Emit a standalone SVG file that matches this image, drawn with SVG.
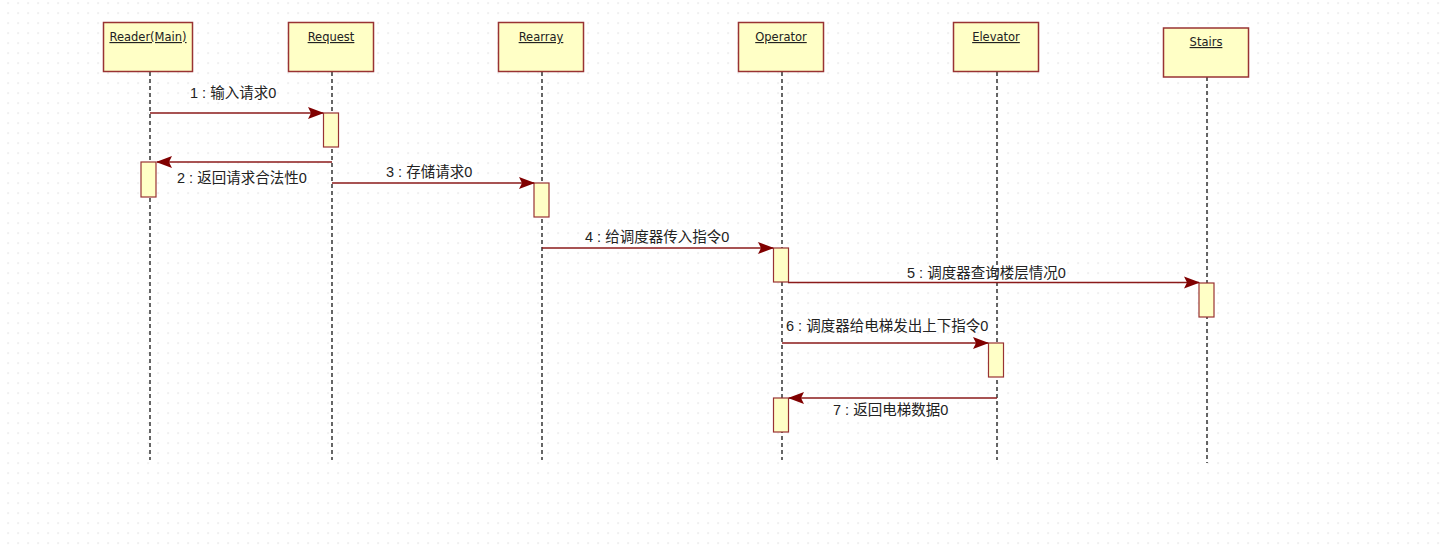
<svg xmlns="http://www.w3.org/2000/svg" width="1445" height="553" viewBox="0 0 1445 553">
<defs>
<pattern id="grid" x="7.5" y="2.5" width="10" height="10" patternUnits="userSpaceOnUse">
<rect x="0" y="0" width="1.2" height="1.2" fill="#d4d4d4"/>
</pattern>
<marker id="arr" markerWidth="16" markerHeight="14" refX="15" refY="7" orient="auto" markerUnits="userSpaceOnUse">
<path d="M0,1 L16,7 L0,13 L3,7 Z" fill="#800000"/>
</marker>
<style>
.obj{fill:#ffffc6;stroke:#993333;stroke-width:1.5}
.act{fill:#ffffc6;stroke:#993333;stroke-width:1.2}
.life{stroke:#000;stroke-width:1.2;stroke-dasharray:4 3;fill:none}
.msg{stroke:#8b1a1a;stroke-width:1.4;fill:none;marker-end:url(#arr)}
.name{font-family:"DejaVu Sans","Liberation Sans",sans-serif;font-size:11.5px;fill:#222;text-decoration:underline;text-anchor:middle}
.lbl{font-family:"Liberation Sans","Noto Sans CJK SC",sans-serif;font-size:14.5px;fill:#222}
</style>
</defs>
<rect width="1445" height="553" fill="#fff"/>
<rect x="0" y="0" width="1445" height="550" fill="url(#grid)"/>

<g id="lifelines">
<line class="life" x1="150" y1="72" x2="150" y2="460"/>
<line class="life" x1="332" y1="72" x2="332" y2="460"/>
<line class="life" x1="542" y1="72" x2="542" y2="460"/>
<line class="life" x1="782" y1="72" x2="782" y2="460"/>
<line class="life" x1="997" y1="72" x2="997" y2="460"/>
<line class="life" x1="1207" y1="77" x2="1207" y2="463"/>
</g>

<g id="reader"><rect class="obj" x="103.5" y="22.5" width="89" height="49"/><text class="name" x="148" y="41">Reader(Main)</text></g>
<g id="request"><rect class="obj" x="288.5" y="22.5" width="85" height="49"/><text class="name" x="331" y="41">Request</text></g>
<g id="rearray"><rect class="obj" x="498.5" y="22.5" width="85" height="49"/><text class="name" x="541" y="41">Rearray</text></g>
<g id="operator"><rect class="obj" x="738.5" y="22.5" width="85" height="49"/><text class="name" x="781" y="41">Operator</text></g>
<g id="elevator"><rect class="obj" x="953.5" y="22.5" width="85" height="49"/><text class="name" x="996" y="41">Elevator</text></g>
<g id="stairs"><rect class="obj" x="1163.5" y="28" width="85" height="49"/><text class="name" x="1206" y="46">Stairs</text></g>

<g id="activations">
<rect class="act" x="323.5" y="113" width="15" height="34"/>
<rect class="act" x="141" y="162" width="15" height="35"/>
<rect class="act" x="534" y="183" width="15" height="34"/>
<rect class="act" x="773.5" y="248" width="15" height="34"/>
<rect class="act" x="1199" y="283" width="15" height="34"/>
<rect class="act" x="988.5" y="343" width="15" height="34"/>
<rect class="act" x="773.5" y="398" width="15" height="34"/>
</g>

<g id="connectors">
<line class="msg" x1="150" y1="113" x2="323" y2="113"/>
<line class="msg" x1="332" y1="162" x2="157" y2="162"/>
<line class="msg" x1="332" y1="183" x2="534" y2="183"/>
<line class="msg" x1="542" y1="248" x2="773" y2="248"/>
<line class="msg" x1="788" y1="282.5" x2="1199" y2="282.5"/>
<line class="msg" x1="782" y1="343" x2="988" y2="343"/>
<line class="msg" x1="997" y1="398" x2="789" y2="398"/>
</g>

<g id="labels">
<text class="lbl" x="190" y="98">1 : 输入请求0</text>
<text class="lbl" x="177" y="183">2 : 返回请求合法性0</text>
<text class="lbl" x="386" y="177">3 : 存储请求0</text>
<text class="lbl" x="585" y="242">4 : 给调度器传入指令0</text>
<text class="lbl" x="907" y="278">5 : 调度器查询楼层情况0</text>
<text class="lbl" x="786" y="331">6 : 调度器给电梯发出上下指令0</text>
<text class="lbl" x="833" y="415">7 : 返回电梯数据0</text>
</g>
</svg>
